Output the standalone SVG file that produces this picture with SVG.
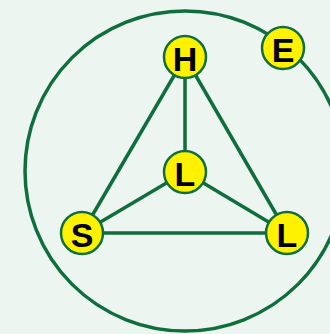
<svg xmlns="http://www.w3.org/2000/svg" width="330" height="334" viewBox="0 0 330 334">
<style>
.edge{stroke:#0f6e3c;stroke-width:3.5;fill:none}
.node circle{fill:#fff200;stroke:#0f6e3c;stroke-width:2.5}
.node text{font-family:"Liberation Sans",Arial,sans-serif;font-weight:bold;font-size:34px;fill:#000;text-anchor:middle;dominant-baseline:central}
</style>
<rect width="330" height="334" fill="#ecf5f0"/>
<g id="connectors">
<circle class="edge" cx="185" cy="171" r="160"/>
<line class="edge" x1="185" y1="57" x2="82" y2="233"/>
<line class="edge" x1="185" y1="57" x2="287" y2="233"/>
<line class="edge" x1="185" y1="57" x2="185" y2="172"/>
<line class="edge" x1="185" y1="172" x2="82" y2="233"/>
<line class="edge" x1="185" y1="172" x2="287" y2="233"/>
<line class="edge" x1="82" y1="233" x2="287" y2="233"/>
</g>
<g id="node-H" class="node"><circle cx="185" cy="57" r="21"/><text x="185" y="59">H</text></g>
<g id="node-E" class="node"><circle cx="283" cy="48" r="21"/><text x="283" y="50">E</text></g>
<g id="node-L1" class="node"><circle cx="185" cy="172" r="21"/><text x="185" y="174">L</text></g>
<g id="node-S" class="node"><circle cx="82" cy="233" r="21"/><text x="82" y="235">S</text></g>
<g id="node-L2" class="node"><circle cx="287" cy="233" r="21"/><text x="287" y="235">L</text></g>
</svg>
